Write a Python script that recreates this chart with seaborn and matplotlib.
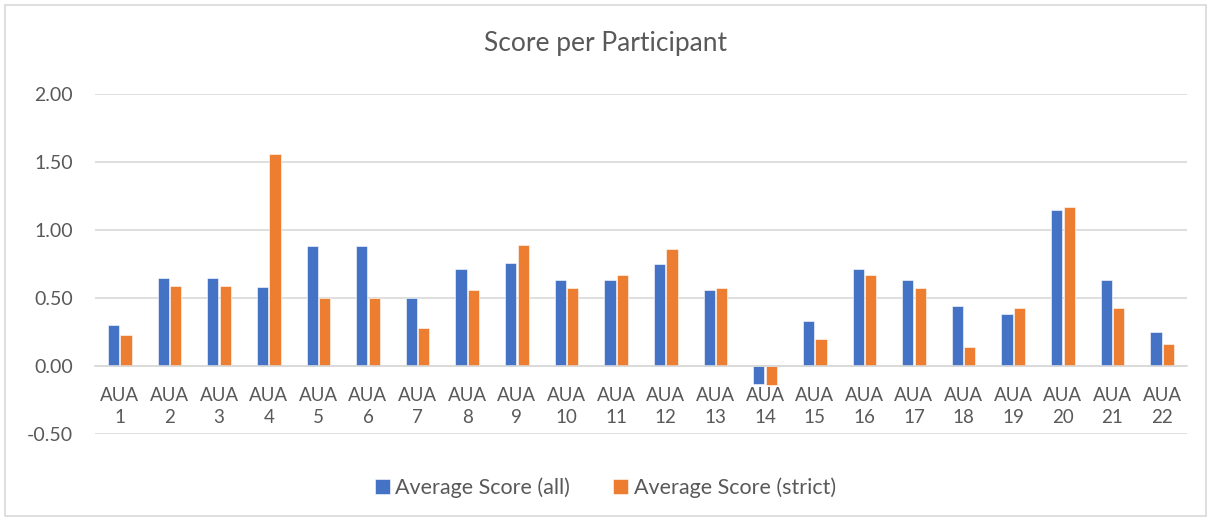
import pandas as pd
import matplotlib.pyplot as plt
import matplotlib.patches as mpatches
import seaborn as sns

# DATA
participants = ["AUA\n" + str(i) for i in range(1, 23)]
score_all = [0.30, 0.65, 0.65, 0.58, 0.88, 0.88, 0.50, 0.71, 0.76, 0.63, 0.63,
             0.75, 0.56, -0.13, 0.33, 0.71, 0.63, 0.44, 0.38, 1.15, 0.63, 0.25]
score_strict = [0.23, 0.59, 0.59, 1.56, 0.50, 0.50, 0.28, 0.56, 0.89, 0.57, 0.67,
                0.86, 0.57, -0.14, 0.20, 0.67, 0.57, 0.14, 0.43, 1.17, 0.43, 0.16]
series_names = ["Average Score (all)", "Average Score (strict)"]
y_ticks = [-0.5, 0.0, 0.5, 1.0, 1.5, 2.0]

df = pd.DataFrame({
    "participant": participants * 2,
    "score": score_all + score_strict,
    "series": [series_names[0]] * 22 + [series_names[1]] * 22,
})

sns.set_style("white")
plt.rcParams['font.family'] = ['Lato', 'DejaVu Sans']
text_col = "#595959"
grid_col = "#D9D9D9"

fig = plt.figure(figsize=(12.11, 5.21), dpi=100)
ax = fig.add_axes([95 / 1211, 1 - 434 / 521, (1187 - 95) / 1211, (434 - 94) / 521])

sns.barplot(
    data=df, x="participant", y="score", hue="series",
    hue_order=series_names, order=participants,
    palette=["#4472C4", "#ED7D31"], saturation=1,
    width=0.5, gap=0.1, ax=ax, legend=True,
    edgecolor="white", linewidth=0.4,
)

ax.set_ylim(-0.5, 2.0)
ax.set_xlim(-0.5, 21.5)
ax.set_yticks(y_ticks)
ax.set_yticklabels([f"{v:.2f}" for v in y_ticks])
ax.yaxis.grid(True, color=grid_col, linewidth=1.2)
ax.set_axisbelow(True)

for side in ["top", "right", "left"]:
    ax.spines[side].set_visible(False)
ax.spines["bottom"].set_position(("data", 0))
ax.spines["bottom"].set_color(grid_col)
ax.spines["bottom"].set_linewidth(1.2)

ax.tick_params(axis="x", length=0, pad=15, labelsize=13.5, labelcolor=text_col)
ax.tick_params(axis="y", length=0, pad=16, labelsize=14, labelcolor=text_col)
for lab in ax.get_xticklabels():
    lab.set_linespacing(1.4)

ax.set_xlabel("")
ax.set_ylabel("")

handles, labels = ax.get_legend_handles_labels()
ax.legend_.remove()
fig.legend(handles, labels, loc="center", bbox_to_anchor=(0.5, 1 - 488 / 521),
           ncol=2, frameon=False, fontsize=15.5, labelcolor=text_col,
           handlelength=0.7, handleheight=0.7, handletextpad=0.25,
           columnspacing=2.0)

fig.text(0.5, 1 - 44 / 521, "Score per Participant", ha="center", va="center",
         fontsize=19, color=text_col)

# chart frame
fig.patches.append(mpatches.Rectangle((5 / 1211, 5 / 521), 1201 / 1211, 511 / 521,
                                      transform=fig.transFigure, fill=False,
                                      edgecolor=grid_col, linewidth=1.2))

fig.savefig("out.png", dpi=100)
